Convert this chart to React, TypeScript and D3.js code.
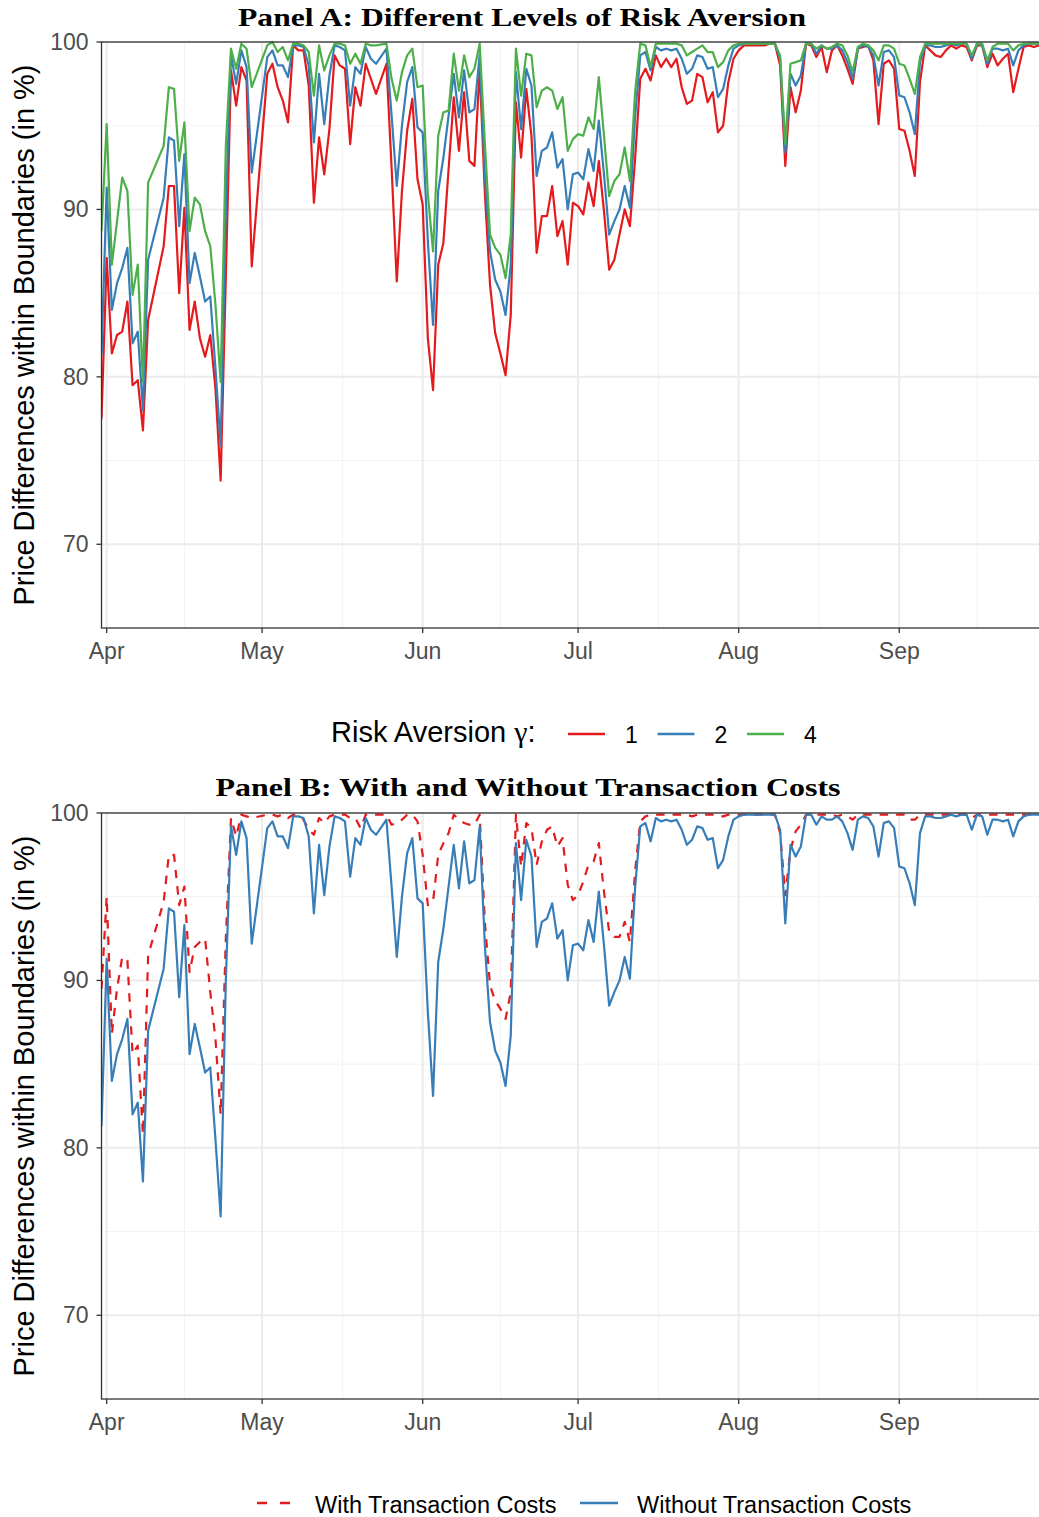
import React from "react";
import * as d3 from "d3";

// Day offsets relative to 1 April (observation days)
const dayOffsets = [
  -1, 0, 1, 2, 3, 4, 5, 6, 7, 8,
  11, 12, 13, 14, 15, 16, 17, 18, 19, 20, 21, 22, 23, 24, 25, 26, 27, 28,
  31, 32, 33, 34, 35, 36, 37, 38, 39, 40, 41, 42, 43, 44, 45, 46, 47, 48, 49, 50, 51, 52,
  54, 55, 56, 57, 58, 59, 60, 61, 62, 63, 64, 65, 66, 67, 68, 69, 70, 71, 72,
  73, 74, 75, 76, 77, 78, 79, 80, 81, 82, 83, 84, 85, 86, 87, 88, 89, 90, 91, 92,
  93, 94, 95, 96, 97, 98, 99, 100, 101, 102, 103, 104, 105, 106, 107, 108, 109, 110, 111,
  112, 113, 114, 115, 116, 117, 118, 119, 120, 121, 122, 123, 124, 125, 126, 127, 128, 129, 130, 131,
  132, 133, 134, 135, 136, 137, 138, 139, 140, 141, 142, 143, 144, 145, 146, 147,
  148, 149, 150, 151, 152, 153, 154, 155, 156, 157, 158, 159, 160, 161, 162, 163, 164, 165, 166, 167,
  168, 169, 170, 171, 172, 173, 174, 175, 176, 177, 178, 179, 180, 181, 182,
];

// Risk aversion gamma = 1
const gamma1 = [
  77.5, 87.1, 81.4, 82.5, 82.7, 84.5, 79.5, 79.8, 76.8, 83.4,
  87.8, 91.4, 91.4, 85.0, 90.1, 82.8, 84.5, 82.3, 81.2, 82.5, 79.3, 73.8, 86.0, 98.3, 96.2, 98.5, 97.7, 86.6,
  98.1, 98.7, 97.3, 96.5, 95.2, 99.8, 99.5, 99.5, 97.4, 90.4, 94.3, 92.1, 94.8, 99.2, 98.6, 98.4, 93.9, 97.3, 96.2, 98.7, 97.8, 96.9,
  98.7, 92.5, 85.7, 91.1, 94.7, 96.6, 91.8, 90.3, 82.3, 79.2, 86.7, 88.0, 92.4, 96.7, 93.5, 97.0, 92.9, 92.6, 98.4,
  91.0, 85.5, 82.6, 81.4, 80.1, 83.7, 96.4, 93.1, 97.2, 94.4, 87.4, 89.6, 89.6, 91.4, 88.4, 89.3, 86.7, 90.4, 90.2, 89.7,
  91.6, 90.2, 92.9, 89.9, 86.4, 87.0, 88.5, 90.0, 89.0, 93.0, 97.8, 98.4, 97.7, 99.2, 98.5, 99.0, 98.5, 99.0, 97.3,
  96.3, 96.5, 98.1, 97.9, 96.4, 97.0, 94.6, 95.0, 97.6, 99.0, 99.5, 99.8, 99.8, 99.8, 99.8, 99.8, 99.9, 99.9, 98.6, 92.6,
  97.3, 95.8, 97.1, 99.9, 99.8, 99.1, 99.7, 98.2, 99.5, 99.8, 99.2, 98.4, 97.5, 99.6, 99.7, 99.8,
  98.9, 95.1, 98.7, 98.9, 98.4, 94.8, 94.7, 93.5, 92.0, 97.6, 99.8, 99.5, 99.2, 99.1, 99.5, 99.8, 99.6, 99.8, 99.7, 98.9,
  99.8, 99.8, 98.5, 99.3, 98.6, 99.0, 99.3, 97.0, 98.4, 99.7, 99.8, 99.7, 99.8, 99.5, 99.7,
];

// Risk aversion gamma = 2 (also "Without Transaction Costs")
const gamma2 = [
  81.3, 91.3, 84.0, 85.6, 86.5, 87.7, 82.0, 82.7, 78.0, 87.0,
  90.7, 94.3, 94.1, 89.0, 93.3, 85.6, 87.4, 86.0, 84.5, 84.8, 80.5, 75.9, 90.0, 99.2, 97.5, 99.5, 98.5, 92.2,
  99.1, 99.5, 98.6, 98.6, 97.9, 99.8, 99.8, 99.7, 98.6, 94.0, 98.1, 95.1, 98.0, 99.8, 99.7, 99.5, 96.2, 98.5, 98.1, 99.7, 99.0, 98.7,
  99.6, 95.6, 91.4, 95.0, 97.6, 98.5, 94.9, 94.6, 88.1, 83.1, 91.1, 93.1, 95.6, 98.1, 95.5, 98.3, 95.8, 96.0, 99.2,
  92.1, 87.5, 85.8, 85.1, 83.7, 86.7, 98.2, 94.8, 98.4, 97.4, 92.0, 93.5, 93.7, 94.6, 92.5, 93.0, 90.0, 92.1, 92.2, 91.8,
  93.6, 92.3, 95.3, 92.1, 88.5, 89.3, 90.0, 91.4, 90.1, 95.5, 99.2, 99.4, 98.3, 99.7, 99.5, 99.6, 99.5, 99.6, 99.0,
  98.1, 98.4, 99.2, 99.1, 98.4, 98.5, 96.7, 97.2, 98.6, 99.6, 99.8, 99.9, 99.9, 99.9, 99.9, 99.9, 99.9, 99.9, 99.0, 93.4,
  98.1, 97.4, 98.0, 99.9, 99.9, 99.3, 99.8, 99.6, 99.6, 99.8, 99.5, 98.8, 97.8, 99.6, 99.8, 99.7,
  99.2, 97.4, 99.4, 99.5, 99.1, 96.8, 96.7, 95.8, 94.5, 98.8, 99.8, 99.8, 99.7, 99.7, 99.8, 99.9, 99.8, 99.9, 99.9, 99.0,
  99.9, 99.8, 98.7, 99.6, 99.6, 99.5, 99.6, 98.6, 99.5, 99.8, 99.9, 99.9, 99.9, 99.8, 99.9,
];

// Risk aversion gamma = 4
const gamma4 = [
  88.7, 95.1, 86.7, 89.3, 91.9, 91.1, 84.9, 86.7, 79.7, 91.6,
  93.8, 97.3, 97.2, 92.9, 95.2, 88.7, 90.7, 90.3, 88.7, 87.8, 84.3, 79.7, 93.8, 99.6, 98.4, 99.9, 99.6, 97.3,
  99.8, 100, 99.4, 99.7, 98.9, 99.9, 99.9, 99.8, 99.4, 96.8, 99.8, 98.3, 99.2, 99.9, 99.9, 99.8, 98.7, 99.3, 98.7, 99.9, 99.8, 99.8,
  99.9, 97.8, 96.5, 98.2, 99.2, 99.6, 97.3, 97.4, 90.9, 87.5, 94.4, 95.8, 95.9, 99.3, 97.1, 99.2, 97.9, 98.4, 99.9,
  94.0, 88.5, 87.7, 87.3, 85.9, 88.5, 99.6, 96.8, 99.3, 99.2, 96.1, 97.1, 97.3, 97.1, 96.0, 96.7, 93.5, 94.2, 94.5, 94.4,
  95.5, 94.8, 97.9, 94.4, 90.8, 91.7, 92.1, 93.7, 91.7, 97.0, 99.9, 99.8, 98.5, 99.9, 99.9, 99.9, 99.9, 99.9, 99.8,
  99.2, 99.4, 99.6, 99.8, 99.4, 99.4, 98.5, 98.8, 99.5, 99.8, 99.9, 99.9, 99.9, 99.9, 99.9, 99.9, 99.9, 99.9, 99.2, 93.9,
  98.7, 98.8, 98.9, 99.9, 99.9, 99.6, 99.8, 99.6, 99.7, 99.9, 99.8, 99.2, 98.2, 99.7, 99.9, 99.8,
  99.5, 98.9, 99.8, 99.8, 99.6, 98.7, 98.6, 97.8, 96.9, 99.1, 99.9, 99.9, 99.9, 99.9, 99.9, 99.9, 99.9, 99.9, 99.9, 99.2,
  99.9, 99.9, 98.9, 99.7, 99.9, 99.9, 99.9, 99.5, 99.8, 99.9, 99.9, 99.9, 99.9, 99.9, 99.9,
];

// Panel B: With Transaction Costs
const withTC = [
  89.5, 95.0, 86.8, 89.5, 91.4, 91.2, 85.6, 86.1, 80.8, 91.5,
  94.7, 97.5, 97.5, 94.5, 95.6, 90.5, 92.0, 92.3, 92.5, 89.3, 86.5, 82.0, 92.5, 99.7, 98.6, 99.9, 99.8, 99.7,
  99.9, 99.9, 99.8, 99.9, 99.7, 99.9, 99.8, 99.6, 99.0, 98.7, 99.7, 99.4, 99.8, 99.9, 99.9, 99.9, 99.7, 99.7, 99.1, 99.9, 99.9, 99.9,
  99.9, 99.3, 99.4, 99.6, 99.9, 99.9, 99.5, 97.5, 94.5, 94.7, 97.5, 98.2, 98.8, 99.9, 99.6, 99.4, 99.3, 99.3, 99.9,
  93.5, 89.7, 88.8, 88.3, 87.7, 89.3, 99.9, 96.8, 99.4, 99.1, 96.9, 98.3, 99.0, 99.2, 98.0, 98.5, 95.7, 94.8, 95.1, 95.9,
  96.9, 97.1, 98.2, 95.3, 92.9, 92.6, 92.6, 93.5, 92.3, 96.5, 99.5, 99.8, 99.9, 99.9, 99.9, 99.9, 99.9, 99.9, 99.9,
  99.9, 99.8, 99.9, 99.9, 99.9, 99.9, 99.8, 99.8, 99.9, 99.9, 99.9, 99.9, 99.9, 99.9, 99.9, 99.9, 99.9, 99.9, 98.8, 95.1,
  97.8, 98.9, 99.3, 99.9, 99.9, 99.9, 99.9, 99.9, 99.9, 99.8, 99.9, 99.8, 99.6, 99.9, 99.9, 99.9,
  99.9, 99.9, 99.9, 99.9, 99.9, 99.9, 99.9, 99.6, 99.6, 99.9, 99.9, 99.9, 99.9, 99.9, 99.9, 99.9, 99.9, 99.9, 99.9, 99.7,
  99.9, 99.9, 99.9, 99.9, 99.9, 99.9, 99.9, 99.9, 99.9, 99.9, 99.9, 99.9, 99.9, 99.9, 99.9,
];

const yMajor = [70, 80, 90, 100];
const yMinor = [75, 85, 95];
const gammaLabels = ["1", "2", "4"];
const tcLabels = ["With Transaction Costs", "Without Transaction Costs"];

const RED = "#E41A1C";
const BLUE = "#377EB8";
const GREEN = "#4DAF4A";
const SANS = "'Liberation Sans', Arial, Helvetica, sans-serif";
const SERIF = "'Liberation Serif', 'Times New Roman', serif";

const W = 1039;
const H = 1517;
const LEFT = 101.5;
const RIGHT = 1049.5;

const dates = dayOffsets.map((d) => new Date(Date.UTC(2020, 3, 1 + d)));
const x = d3
  .scaleUtc()
  .domain([new Date(Date.UTC(2020, 2, 31)), new Date(Date.UTC(2020, 8, 30))])
  .range([LEFT, RIGHT]);
const months = d3.utcMonths(new Date(Date.UTC(2020, 3, 1)), new Date(Date.UTC(2020, 9, 1)));
const monthMid = months.map((m) => {
  const next = d3.utcMonth.offset(m, 1);
  return new Date((m.getTime() + next.getTime()) / 2);
});
const fmt = d3.utcFormat("%b");

type Series = { values: number[]; color: string; dash?: string };

function Panel({ top, bottom, id, series }: { top: number; bottom: number; id: string; series: Series[] }) {
  const y = d3.scaleLinear().domain([65, 100]).range([bottom, top]);
  const line = (vals: number[]) =>
    d3
      .line<number>()
      .x((_, i) => x(dates[i]))
      .y((v) => y(v))(vals) || "";
  return (
    <g>
      <defs>
        <clipPath id={id}>
          <rect x={LEFT} y={top - 2} width={RIGHT - LEFT} height={bottom - top + 2} />
        </clipPath>
      </defs>
      <rect x={LEFT} y={top} width={RIGHT - LEFT} height={bottom - top} fill="#fff" />
      {yMinor.map((v) => (
        <line key={"ym" + v} x1={LEFT} x2={RIGHT} y1={y(v)} y2={y(v)} stroke="#F2F2F2" strokeWidth={1} />
      ))}
      {monthMid.map((m, i) => (
        <line key={"xm" + i} x1={x(m)} x2={x(m)} y1={top} y2={bottom} stroke="#F2F2F2" strokeWidth={1} />
      ))}
      {yMajor.map((v) => (
        <line key={"yM" + v} x1={LEFT} x2={RIGHT} y1={y(v)} y2={y(v)} stroke="#EBEBEB" strokeWidth={2} />
      ))}
      {months.map((m, i) => (
        <line key={"xM" + i} x1={x(m)} x2={x(m)} y1={top} y2={bottom} stroke="#EBEBEB" strokeWidth={2} />
      ))}
      <g clipPath={`url(#${id})`}>
        {series.map((s, i) => (
          <path
            key={i}
            d={line(s.values)}
            fill="none"
            stroke={s.color}
            strokeWidth={2.2}
            strokeDasharray={s.dash}
            strokeLinejoin="round"
          />
        ))}
      </g>
      <rect x={LEFT} y={top} width={RIGHT - LEFT} height={bottom - top} fill="none" stroke="#333333" strokeWidth={1.3} />
      {yMajor.map((v) => (
        <g key={"yt" + v}>
          <line x1={LEFT - 5} x2={LEFT} y1={y(v)} y2={y(v)} stroke="#333333" strokeWidth={1.3} />
          <text x={LEFT - 13} y={y(v) + 8} textAnchor="end" fontFamily={SANS} fontSize={23} fill="#4D4D4D">
            {v}
          </text>
        </g>
      ))}
      {months.map((m, i) => (
        <g key={"xt" + i}>
          <line x1={x(m)} x2={x(m)} y1={bottom} y2={bottom + 5} stroke="#333333" strokeWidth={1.3} />
          <text x={x(m)} y={bottom + 31} textAnchor="middle" fontFamily={SANS} fontSize={23} fill="#4D4D4D">
            {fmt(m)}
          </text>
        </g>
      ))}
      <text
        transform={`translate(34, ${(top + bottom) / 2}) rotate(-90)`}
        textAnchor="middle"
        fontFamily={SANS}
        fontSize={29}
        fill="#000"
      >
        Price Differences within Boundaries (in %)
      </text>
    </g>
  );
}

export default function App() {
  const aTop = 42;
  const aBottom = 628;
  const bTop = 813;
  const bBottom = 1399;
  return (
    <svg
      width={W}
      height={H}
      viewBox={`0 0 ${W} ${H}`}
      style={{ position: "absolute", left: 0, top: 0, display: "block", background: "#fff" }}
    >
      <rect x={0} y={0} width={W} height={H} fill="#fff" />
      <text x={522} y={26} textAnchor="middle" fontFamily={SERIF} fontWeight="bold" fontSize={25} textLength={568} lengthAdjust="spacingAndGlyphs">
        Panel A: Different Levels of Risk Aversion
      </text>
      <Panel
        top={aTop}
        bottom={aBottom}
        id="clipA"
        series={[
          { values: gamma1, color: RED },
          { values: gamma2, color: BLUE },
          { values: gamma4, color: GREEN },
        ]}
      />
      {/* Legend A */}
      <g fontFamily={SANS}>
        <text x={331} y={742} fontSize={29} fill="#000">
          Risk Aversion{" "}
          <tspan fontFamily={SERIF} fontSize={30}>
            γ
          </tspan>
          :
        </text>
        {[RED, BLUE, GREEN].map((c, i) => {
          const x0 = 568 + i * 89.5;
          return (
            <g key={i}>
              <line x1={x0} x2={x0 + 37} y1={734} y2={734} stroke={c} strokeWidth={2.4} />
              <text x={x0 + 57} y={743} fontSize={23} fill="#000">
                {gammaLabels[i]}
              </text>
            </g>
          );
        })}
      </g>
      <text x={528} y={796} textAnchor="middle" fontFamily={SERIF} fontWeight="bold" fontSize={25} textLength={625} lengthAdjust="spacingAndGlyphs">
        Panel B: With and Without Transaction Costs
      </text>
      <Panel
        top={bTop}
        bottom={bBottom}
        id="clipB"
        series={[
          { values: withTC, color: RED, dash: "8.5 8" },
          { values: gamma2, color: BLUE },
        ]}
      />
      {/* Legend B */}
      <g fontFamily={SANS}>
        <line x1={257} x2={291} y1={1503} y2={1503} stroke={RED} strokeWidth={2.4} strokeDasharray="10 13" />
        <text x={315} y={1513} fontSize={23.5} fill="#000">
          {tcLabels[0]}
        </text>
        <line x1={580} x2={618} y1={1503} y2={1503} stroke={BLUE} strokeWidth={2.4} />
        <text x={637} y={1513} fontSize={23.5} fill="#000">
          {tcLabels[1]}
        </text>
      </g>
    </svg>
  );
}
